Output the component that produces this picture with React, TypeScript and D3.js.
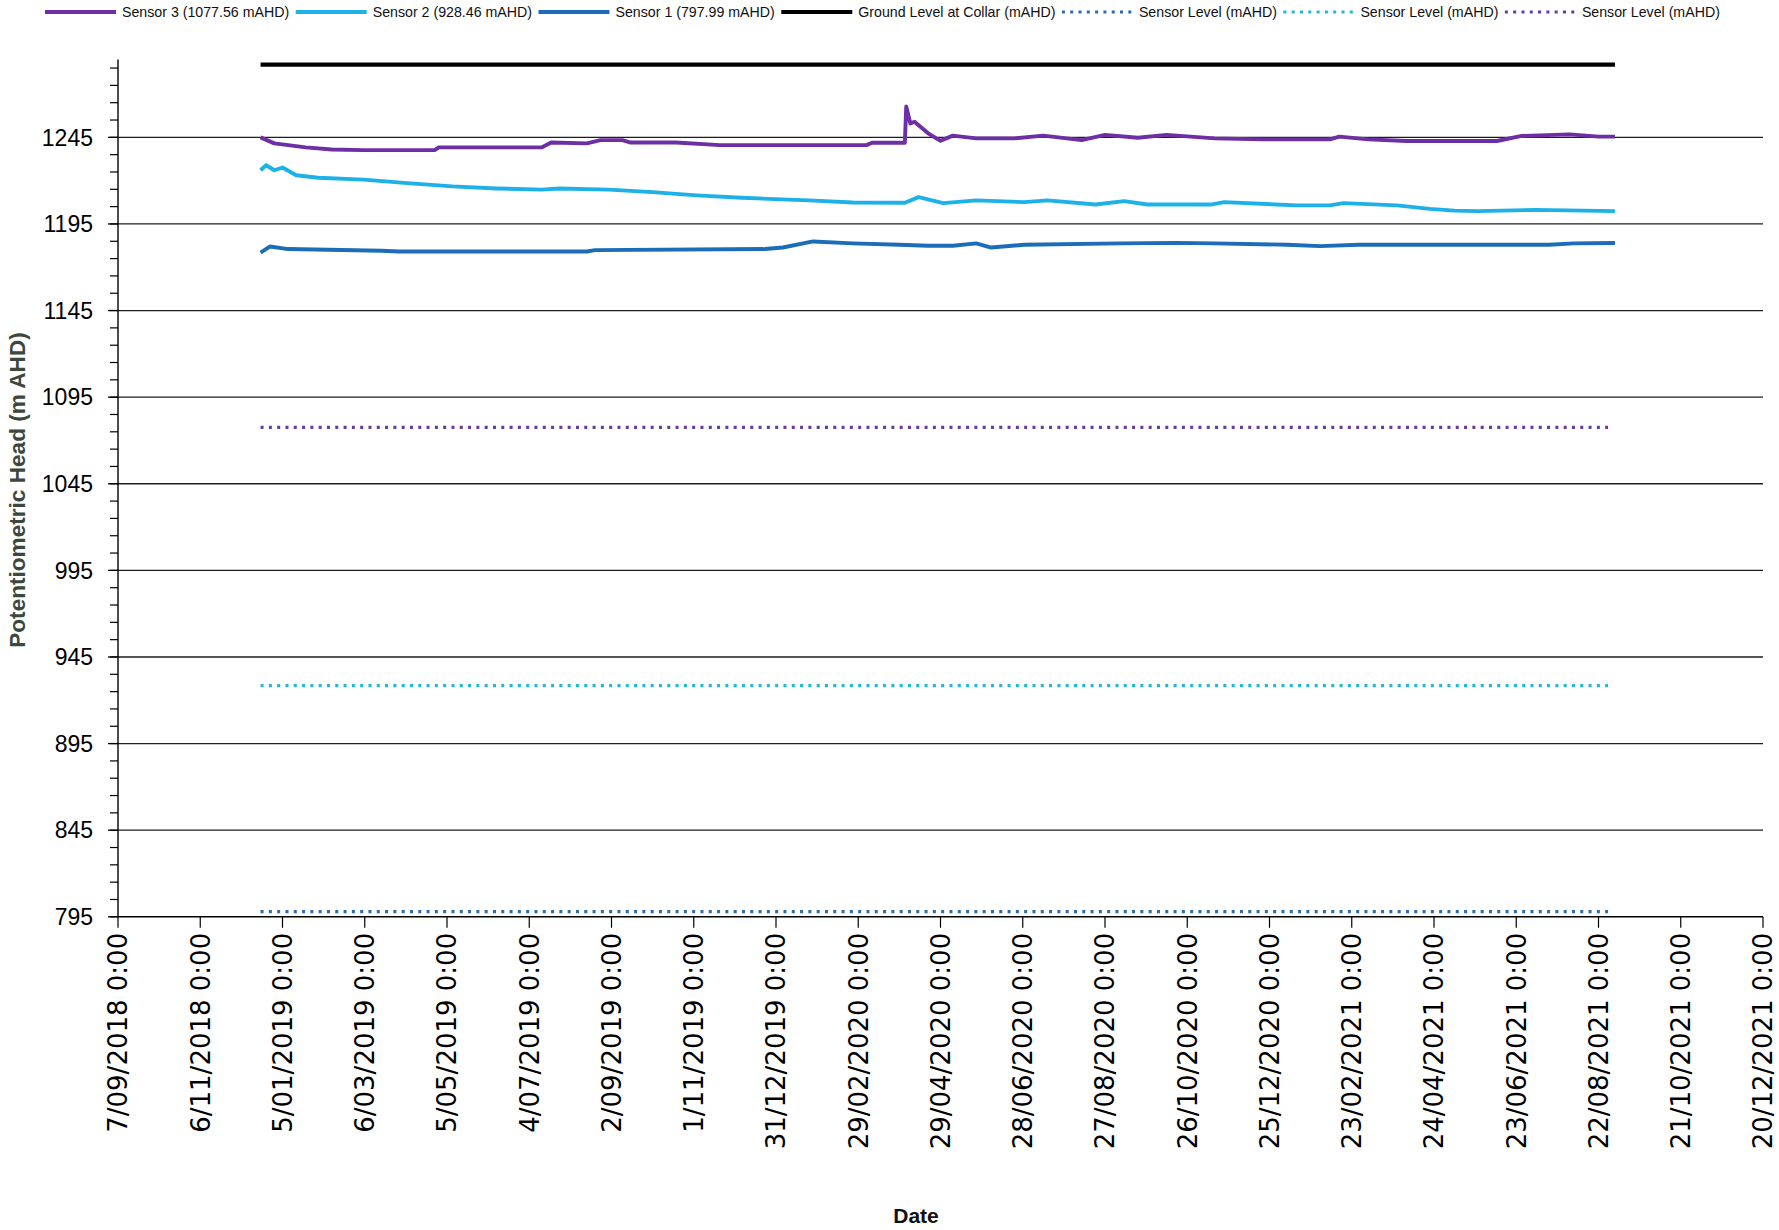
import React, { useEffect, useRef } from "react";
import * as d3 from "d3";

type Pt = { d: string; v: number };

const sensor3: Pt[] = [
  { d: "2018-12-20", v: 1245.0 }, { d: "2018-12-30", v: 1241.5 }, { d: "2019-01-22", v: 1239.2 },
  { d: "2019-02-10", v: 1238.0 }, { d: "2019-03-05", v: 1237.6 }, { d: "2019-04-26", v: 1237.6 },
  { d: "2019-04-29", v: 1239.2 }, { d: "2019-07-13", v: 1239.2 }, { d: "2019-07-20", v: 1242.0 },
  { d: "2019-08-15", v: 1241.5 }, { d: "2019-08-25", v: 1243.4 }, { d: "2019-09-10", v: 1243.4 },
  { d: "2019-09-16", v: 1242.0 }, { d: "2019-10-19", v: 1242.0 }, { d: "2019-11-20", v: 1240.5 },
  { d: "2020-03-06", v: 1240.5 }, { d: "2020-03-10", v: 1241.9 }, { d: "2020-04-03", v: 1241.9 },
  { d: "2020-04-04", v: 1262.8 }, { d: "2020-04-07", v: 1253.0 }, { d: "2020-04-10", v: 1254.0 },
  { d: "2020-04-20", v: 1247.3 }, { d: "2020-04-29", v: 1243.0 }, { d: "2020-05-08", v: 1246.0 },
  { d: "2020-05-25", v: 1244.4 }, { d: "2020-06-22", v: 1244.4 }, { d: "2020-07-13", v: 1246.0 },
  { d: "2020-08-10", v: 1243.4 }, { d: "2020-08-27", v: 1246.4 }, { d: "2020-09-20", v: 1244.8 },
  { d: "2020-10-11", v: 1246.4 }, { d: "2020-11-15", v: 1244.4 }, { d: "2020-12-20", v: 1243.8 },
  { d: "2021-02-07", v: 1243.8 }, { d: "2021-02-14", v: 1245.4 }, { d: "2021-03-07", v: 1243.8 },
  { d: "2021-04-04", v: 1242.9 }, { d: "2021-06-09", v: 1242.9 }, { d: "2021-06-27", v: 1245.8 },
  { d: "2021-08-01", v: 1246.7 }, { d: "2021-08-22", v: 1245.4 }, { d: "2021-09-03", v: 1245.4 },
];

const sensor2: Pt[] = [
  { d: "2018-12-20", v: 1226.0 }, { d: "2018-12-24", v: 1228.9 }, { d: "2018-12-30", v: 1226.0 },
  { d: "2019-01-05", v: 1227.6 }, { d: "2019-01-15", v: 1223.1 }, { d: "2019-01-31", v: 1221.7 },
  { d: "2019-03-05", v: 1220.6 }, { d: "2019-04-06", v: 1218.6 }, { d: "2019-05-09", v: 1216.7 },
  { d: "2019-06-10", v: 1215.5 }, { d: "2019-07-13", v: 1214.8 }, { d: "2019-07-26", v: 1215.5 },
  { d: "2019-08-31", v: 1214.8 }, { d: "2019-10-02", v: 1213.4 }, { d: "2019-11-03", v: 1211.5 },
  { d: "2019-12-06", v: 1210.1 }, { d: "2020-01-24", v: 1208.6 }, { d: "2020-02-25", v: 1207.4 },
  { d: "2020-04-03", v: 1207.2 }, { d: "2020-04-13", v: 1210.5 }, { d: "2020-05-01", v: 1207.0 },
  { d: "2020-05-25", v: 1208.6 }, { d: "2020-06-29", v: 1207.6 }, { d: "2020-07-16", v: 1208.6 },
  { d: "2020-08-20", v: 1206.2 }, { d: "2020-09-10", v: 1208.2 }, { d: "2020-09-27", v: 1206.2 },
  { d: "2020-11-12", v: 1206.2 }, { d: "2020-11-22", v: 1207.6 }, { d: "2021-01-14", v: 1205.7 },
  { d: "2021-02-07", v: 1205.7 }, { d: "2021-02-17", v: 1207.0 }, { d: "2021-03-28", v: 1205.7 },
  { d: "2021-04-21", v: 1203.7 }, { d: "2021-05-09", v: 1202.7 }, { d: "2021-05-26", v: 1202.4 },
  { d: "2021-07-07", v: 1203.1 }, { d: "2021-09-03", v: 1202.4 },
];

const sensor1: Pt[] = [
  { d: "2018-12-20", v: 1178.5 }, { d: "2018-12-27", v: 1182.0 }, { d: "2019-01-09", v: 1180.5 },
  { d: "2019-03-18", v: 1179.5 }, { d: "2019-03-31", v: 1179.1 }, { d: "2019-08-15", v: 1179.1 },
  { d: "2019-08-21", v: 1179.9 }, { d: "2019-12-23", v: 1180.5 }, { d: "2020-01-05", v: 1181.4 },
  { d: "2020-01-27", v: 1184.9 }, { d: "2020-02-25", v: 1183.8 }, { d: "2020-03-30", v: 1183.0 },
  { d: "2020-04-20", v: 1182.4 }, { d: "2020-05-08", v: 1182.4 }, { d: "2020-05-25", v: 1183.8 },
  { d: "2020-06-05", v: 1181.4 }, { d: "2020-06-29", v: 1183.0 }, { d: "2020-09-07", v: 1183.8 },
  { d: "2020-10-18", v: 1184.1 }, { d: "2020-11-15", v: 1183.8 }, { d: "2021-01-07", v: 1183.0 },
  { d: "2021-01-31", v: 1182.2 }, { d: "2021-02-28", v: 1183.0 }, { d: "2021-07-17", v: 1183.0 },
  { d: "2021-08-04", v: 1183.8 }, { d: "2021-09-03", v: 1184.0 },
];

const groundLevel: Pt[] = [
  { d: "2018-12-20", v: 1287 }, { d: "2021-09-03", v: 1287 },
];
const sensor1Level: Pt[] = [
  { d: "2018-12-20", v: 797.99 }, { d: "2021-08-29", v: 797.99 },
];
const sensor2Level: Pt[] = [
  { d: "2018-12-20", v: 928.46 }, { d: "2021-08-29", v: 928.46 },
];
const sensor3Level: Pt[] = [
  { d: "2018-12-20", v: 1077.56 }, { d: "2021-08-29", v: 1077.56 },
];

const xStart = "2018-09-07";
const xEnd = "2021-12-20";
const xTickStepDays = 60;
const yMin = 795;
const yMax = 1290;
const yMajorStep = 50;
const yMinorStep = 10;

const legendLabels = [
  "Sensor 3 (1077.56 mAHD)",
  "Sensor 2 (928.46 mAHD)",
  "Sensor 1 (797.99 mAHD)",
  "Ground Level at Collar (mAHD)",
  "Sensor Level (mAHD)",
  "Sensor Level (mAHD)",
  "Sensor Level (mAHD)",
];

const C_PURPLE = "#6E2EA6";
const C_CYAN = "#1DB1E8";
const C_BLUE = "#1C6DB8";
const C_BLACK = "#000000";
const C_DOT_BLUE = "#2A6DAA";
const C_DOT_CYAN = "#20B8D6";
const C_DOT_PURPLE = "#6A3A9C";

export default function App() {
  const ref = useRef<SVGSVGElement | null>(null);

  useEffect(() => {
    const svg = d3.select(ref.current);
    svg.selectAll("*").remove();
    const parse = d3.utcParse("%Y-%m-%d");

    const x = d3.scaleUtc().domain([parse(xStart)!, parse(xEnd)!]).range([118, 1763]);
    const y = d3.scaleLinear().domain([yMin, yMax]).range([916.8, 59.4]);

    svg.append("rect").attr("width", 1779).attr("height", 1230).attr("fill", "#fff");

    const majors = d3.range(yMin, yMax + 0.001, yMajorStep);
    const minors = d3.range(yMin, yMax + 0.001, yMinorStep);
    svg.append("g").selectAll("line").data(majors.filter((v) => v !== yMin)).join("line")
      .attr("x1", 118).attr("x2", 1763)
      .attr("y1", (d) => y(d)).attr("y2", (d) => y(d))
      .attr("stroke", "#1e1e1e").attr("stroke-width", 1.3);

    const gy = svg.append("g");
    gy.append("line").attr("x1", 118).attr("x2", 118).attr("y1", y(yMax)).attr("y2", y(yMin))
      .attr("stroke", "#000").attr("stroke-width", 1.4);
    gy.selectAll("line.minor").data(minors).join("line").attr("class", "minor")
      .attr("x1", 110).attr("x2", 118).attr("y1", (d) => y(d)).attr("y2", (d) => y(d))
      .attr("stroke", "#000").attr("stroke-width", 1.2);
    gy.selectAll("line.major").data(majors).join("line").attr("class", "major")
      .attr("x1", 108).attr("x2", 118).attr("y1", (d) => y(d)).attr("y2", (d) => y(d))
      .attr("stroke", "#000").attr("stroke-width", 1.3);
    gy.selectAll("text").data(majors).join("text")
      .attr("x", 93).attr("y", (d) => y(d)).attr("dy", "0.36em")
      .attr("text-anchor", "end").attr("font-family", "'Liberation Sans', Arial, sans-serif")
      .attr("font-size", 23).attr("fill", "#000").text((d) => String(d));

    const t0 = parse(xStart)!;
    const t1 = parse(xEnd)!;
    const xticks: Date[] = [];
    for (let t = t0; t <= t1; t = d3.utcDay.offset(t, xTickStepDays)) xticks.push(t);
    const gx = svg.append("g");
    gx.append("line").attr("x1", 118).attr("x2", 1763).attr("y1", y(yMin)).attr("y2", y(yMin))
      .attr("stroke", "#000").attr("stroke-width", 1.4);
    gx.selectAll("line.tick").data(xticks).join("line").attr("class", "tick")
      .attr("x1", (d) => x(d)).attr("x2", (d) => x(d)).attr("y1", y(yMin)).attr("y2", y(yMin) + 11)
      .attr("stroke", "#000").attr("stroke-width", 1.2);
    const fmt = (d: Date) => `${d.getUTCDate()}/${String(d.getUTCMonth() + 1).padStart(2, "0")}/${d.getUTCFullYear()} 0:00`;
    gx.selectAll("text").data(xticks).join("text")
      .attr("transform", (d) => `translate(${x(d)},${y(yMin) + 16}) rotate(-90)`)
      .attr("dy", "0.36em").attr("text-anchor", "end")
      .attr("font-family", "'DejaVu Sans', Verdana, sans-serif").attr("font-size", 26)
      .attr("fill", "#000").text(fmt);

    const line = d3.line<Pt>().x((p) => x(parse(p.d)!)).y((p) => y(p.v));
    const drawLine = (data: Pt[], color: string, w: number, dash?: string) => {
      const p = svg.append("path").attr("d", line(data)!).attr("fill", "none")
        .attr("stroke", color).attr("stroke-width", w).attr("stroke-linejoin", "round");
      if (dash) p.attr("stroke-dasharray", dash);
    };
    drawLine(sensor1Level, C_DOT_BLUE, 3.2, "3 5.3");
    drawLine(sensor2Level, C_DOT_CYAN, 3.2, "3 5.3");
    drawLine(sensor3Level, C_DOT_PURPLE, 3.2, "3 5.3");
    drawLine(groundLevel, C_BLACK, 4.2);
    drawLine(sensor1, C_BLUE, 3.9);
    drawLine(sensor2, C_CYAN, 3.9);
    drawLine(sensor3, C_PURPLE, 3.9);

    svg.append("text").attr("transform", "translate(25,490) rotate(-90)")
      .attr("text-anchor", "middle").attr("font-family", "'Liberation Sans', Arial, sans-serif")
      .attr("font-weight", "bold").attr("font-size", 22.6).attr("fill", "#3d483d")
      .text("Potentiometric Head (m AHD)");
    svg.append("text").attr("x", 916).attr("y", 1223)
      .attr("text-anchor", "middle").attr("font-family", "'Liberation Sans', Arial, sans-serif")
      .attr("font-weight", "bold").attr("font-size", 21).attr("fill", "#111").text("Date");

    const styles = [
      { c: C_PURPLE, dash: undefined },
      { c: C_CYAN, dash: undefined },
      { c: C_BLUE, dash: undefined },
      { c: C_BLACK, dash: undefined },
      { c: C_DOT_BLUE, dash: "3 5.3" },
      { c: C_DOT_CYAN, dash: "3 5.3" },
      { c: C_DOT_PURPLE, dash: "3 5.3" },
    ];
    const lg = svg.append("g");
    let cx = 45;
    const ly = 12;
    legendLabels.forEach((lab, i) => {
      const s = styles[i];
      const ln = lg.append("line").attr("x1", cx).attr("x2", cx + 71).attr("y1", ly).attr("y2", ly)
        .attr("stroke", s.c).attr("stroke-width", s.dash ? 3.2 : 4);
      if (s.dash) ln.attr("stroke-dasharray", s.dash);
      const t = lg.append("text").attr("x", cx + 77).attr("y", ly).attr("dy", "0.35em")
        .attr("font-family", "'Liberation Sans', Arial, sans-serif").attr("font-size", 14.2)
        .attr("fill", "#111").text(lab);
      const w = (t.node() as SVGTextElement).getComputedTextLength();
      cx = cx + 77 + w + 6.5;
    });
  }, []);

  return (
    <svg ref={ref} width={1779} height={1230}
      style={{ position: "absolute", left: 0, top: 0, display: "block" }} />
  );
}
